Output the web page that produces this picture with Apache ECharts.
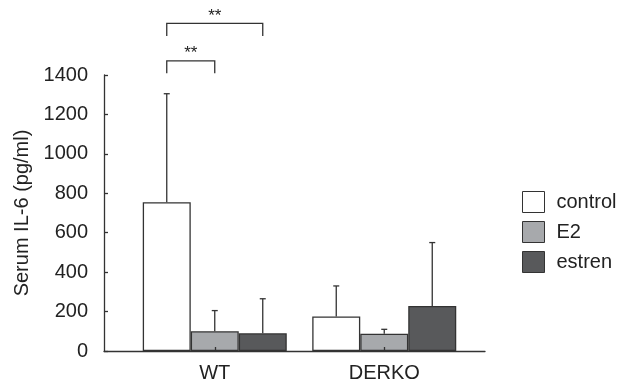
<!DOCTYPE html>
<html>
<head>
<meta charset="utf-8">
<script src="https://cdn.jsdelivr.net/npm/echarts@6/dist/echarts.min.js"></script>
<style>
  html, body { margin: 0; background: #fff; }
  #chart { width: 629px; height: 389px; }
</style>
</head>
<body>
<div id="chart"></div>
<script>
const groups = ['WT', 'DERKO'];
const seriesNames = ['control', 'E2', 'estren'];
const seriesColors = ['#ffffff', '#a7a9ac', '#58595b'];

const controlMean = [755, 175];
const controlSd = [550, 155];
const e2Mean = [100, 88];
const e2Sd = [105, 22];
const estrenMean = [90, 228];
const estrenSd = [175, 322];

// significance brackets: [group, from series, to series]
const sigPairs = [[0, 0, 1], [0, 0, 2]];
const sigTop = [1472, 1662];
const sigLegEnd = [1409, 1598];
const sigLabels = ['**', '**'];

const INK = '#333333';
const FONT = 'Liberation Sans, Arial, Helvetica, sans-serif';
const BAR_W = 48;

const means = [controlMean, e2Mean, estrenMean];
const sds = [controlSd, e2Sd, estrenSd];

const errData = [];
means.forEach((m, s) => {
  m.forEach((v, g) => errData.push([g, s, v, v + sds[s][g]]));
});

const sigData = sigPairs.map((p, i) => [p[0], p[1], p[2], sigTop[i], sigLegEnd[i]]);

const chart = echarts.init(document.getElementById('chart'));

function barX(api, g, s) {
  return api.coord([g, 0])[0] + (s - 1) * BAR_W;
}

chart.setOption({
  animation: false,
  textStyle: { fontFamily: FONT },
  legend: {
    orient: 'vertical',
    left: 517,
    top: 186,
    itemWidth: 22,
    itemHeight: 21,
    itemGap: 8,
    icon: 'rect',
    data: seriesNames,
    itemStyle: { borderColor: INK, borderWidth: 1 },
    textStyle: { fontSize: 20, color: '#222', fontFamily: FONT, padding: [0, 0, 0, 7] }
  },
  grid: [
    { left: 104, right: 144, top: 75, bottom: 38 },
    { left: 130, right: 160, top: 75, bottom: 38 }
  ],
  xAxis: [
    {
      gridIndex: 0, type: 'value', min: 0, max: 1,
      axisLine: { show: true, lineStyle: { color: INK, width: 1.3 } },
      axisTick: { show: false }, axisLabel: { show: false }, splitLine: { show: false }
    },
    {
      gridIndex: 1, type: 'category', data: groups, z: 4,
      axisLine: { show: false },
      axisTick: { show: true, inside: true, alignWithLabel: true, length: 4, lineStyle: { color: INK, width: 1.3 } },
      axisLabel: { fontSize: 20, color: '#222', margin: 12, fontFamily: FONT }
    }
  ],
  yAxis: [
    {
      gridIndex: 0, type: 'value', min: 0, max: 1400, interval: 200,
      name: 'Serum IL-6 (pg/ml)', nameLocation: 'middle', nameGap: 64,
      nameTextStyle: { fontSize: 20, color: '#222', fontFamily: FONT },
      axisLine: { show: true, lineStyle: { color: INK, width: 1.3 } },
      axisTick: { show: true, inside: true, length: 4, lineStyle: { color: INK, width: 1.3 } },
      axisLabel: { fontSize: 20, color: '#222', margin: 16, fontFamily: FONT, formatter: v => String(v) },
      splitLine: { show: false }
    },
    { gridIndex: 1, type: 'value', min: 0, max: 1400, show: false }
  ],
  series: [
    ...seriesNames.map((name, s) => ({
      name,
      type: 'bar',
      xAxisIndex: 1,
      yAxisIndex: 1,
      barWidth: BAR_W,
      barGap: '0%',
      data: means[s],
      itemStyle: { color: seriesColors[s], borderColor: INK, borderWidth: 1.3 }
    })),
    {
      type: 'custom',
      xAxisIndex: 1,
      yAxisIndex: 1,
      z: 3,
      encode: { x: 0, y: 3 },
      data: errData,
      renderItem(params, api) {
        const g = api.value(0), s = api.value(1);
        const x = barX(api, g, s);
        const y0 = api.coord([g, api.value(2)])[1];
        const y1 = api.coord([g, api.value(3)])[1];
        const st = { stroke: INK, lineWidth: 1.3 };
        return {
          type: 'group',
          children: [
            { type: 'line', shape: { x1: x, y1: y0, x2: x, y2: y1 }, style: st },
            { type: 'line', shape: { x1: x - 3, y1: y1, x2: x + 3, y2: y1 }, style: st }
          ]
        };
      }
    },
    {
      type: 'custom',
      xAxisIndex: 1,
      yAxisIndex: 1,
      z: 3,
      clip: false,
      encode: { x: 0, y: 3 },
      data: sigData,
      renderItem(params, api) {
        const g = api.value(0);
        const xa = barX(api, g, api.value(1));
        const xb = barX(api, g, api.value(2));
        const yt = api.coord([g, api.value(3)])[1];
        const yl = api.coord([g, api.value(4)])[1];
        return {
          type: 'group',
          children: [
            {
              type: 'polyline',
              shape: { points: [[xa, yl], [xa, yt], [xb, yt], [xb, yl]] },
              style: { stroke: INK, lineWidth: 1.3, fill: null }
            },
            {
              type: 'text',
              x: (xa + xb) / 2,
              y: yt + 1,
              style: {
                text: sigLabels[params.dataIndex],
                fontSize: 17, fontFamily: FONT, fill: '#222',
                align: 'center', verticalAlign: 'bottom'
              }
            }
          ]
        };
      }
    }
  ]
});
</script>
</body>
</html>
